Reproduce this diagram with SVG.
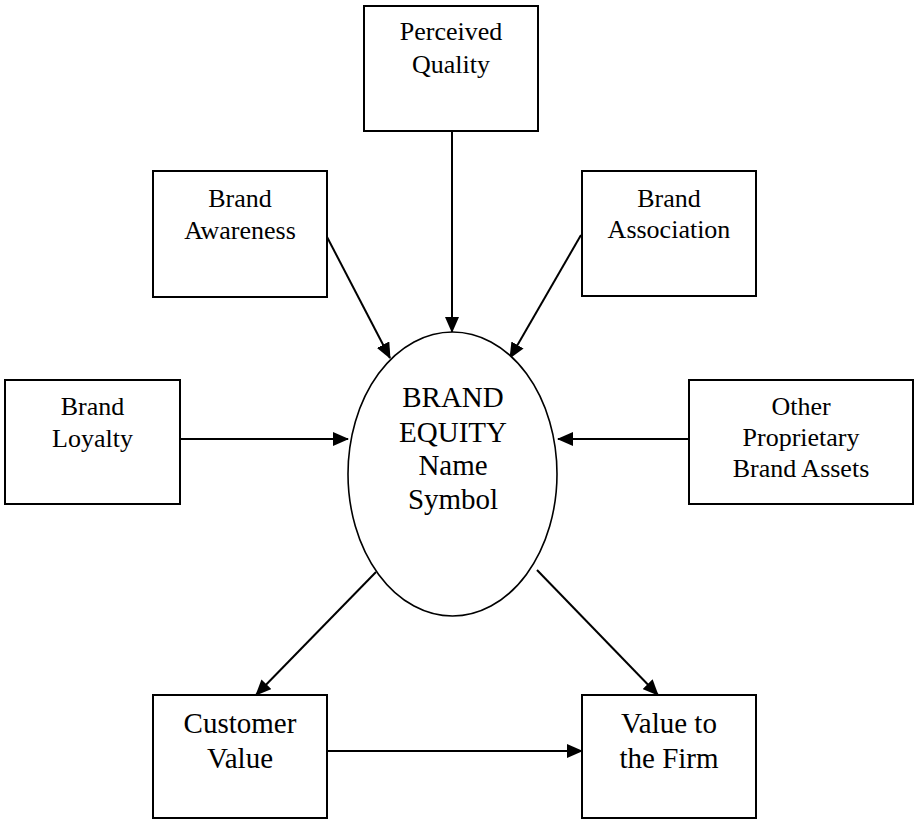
<svg xmlns="http://www.w3.org/2000/svg" width="916" height="820" viewBox="0 0 916 820">
<style>
.box{fill:#fff;stroke:#000;stroke-width:2}
.ell{fill:#fff;stroke:#000;stroke-width:1.6}
.t{font-family:"Liberation Serif","Times New Roman",serif;font-size:26px;fill:#000;text-anchor:middle}
.tl{font-family:"Liberation Serif","Times New Roman",serif;font-size:29px;fill:#000;text-anchor:middle}
.c{stroke:#000;stroke-width:2;fill:none;marker-end:url(#ah)}
</style>
<defs>
<marker id="ah" markerUnits="userSpaceOnUse" markerWidth="16" markerHeight="14" refX="15" refY="7" orient="auto">
<path d="M0,0 L16,7 L0,14 z" fill="#000"/>
</marker>
</defs>
<rect width="916" height="820" fill="#fff"/>
<g id="connectors">
<line class="c" x1="452" y1="131" x2="452" y2="332"/>
<line class="c" x1="326" y1="235" x2="390" y2="358"/>
<line class="c" x1="581" y1="235" x2="510" y2="358"/>
<line class="c" x1="180" y1="439" x2="348" y2="439"/>
<line class="c" x1="689" y1="439" x2="558" y2="439"/>
<line class="c" x1="376" y1="572" x2="256" y2="695"/>
<line class="c" x1="537" y1="570" x2="658" y2="695"/>
<line class="c" x1="327" y1="751" x2="582" y2="751"/>
</g>
<g id="perceived-quality">
<rect class="box" x="364" y="6" width="174" height="125"/>
<text class="t" x="451" y="40">Perceived</text>
<text class="t" x="451" y="73">Quality</text>
</g>
<g id="brand-awareness">
<rect class="box" x="153" y="171" width="174" height="126"/>
<text class="t" x="240" y="207">Brand</text>
<text class="t" x="240" y="239">Awareness</text>
</g>
<g id="brand-association">
<rect class="box" x="582" y="171" width="174" height="125"/>
<text class="t" x="669" y="207">Brand</text>
<text class="t" x="669" y="238">Association</text>
</g>
<g id="brand-loyalty">
<rect class="box" x="5" y="380" width="175" height="124"/>
<text class="t" x="92.5" y="415">Brand</text>
<text class="t" x="92.5" y="447">Loyalty</text>
</g>
<g id="other-assets">
<rect class="box" x="689" y="380" width="224" height="124"/>
<text class="t" x="801" y="415">Other</text>
<text class="t" x="801" y="446">Proprietary</text>
<text class="t" x="801" y="477">Brand Assets</text>
</g>
<g id="brand-equity">
<ellipse class="ell" cx="452.5" cy="474" rx="104.5" ry="142"/>
<text class="tl" x="453" y="407">BRAND</text>
<text class="tl" x="453" y="442">EQUITY</text>
<text class="tl" x="453" y="475">Name</text>
<text class="tl" x="453" y="509">Symbol</text>
</g>
<g id="customer-value">
<rect class="box" x="153" y="695" width="174" height="123"/>
<text class="tl" x="240" y="733">Customer</text>
<text class="tl" x="240" y="768">Value</text>
</g>
<g id="value-firm">
<rect class="box" x="582" y="695" width="174" height="123"/>
<text class="tl" x="669" y="733">Value to</text>
<text class="tl" x="669" y="768">the Firm</text>
</g>
</svg>
